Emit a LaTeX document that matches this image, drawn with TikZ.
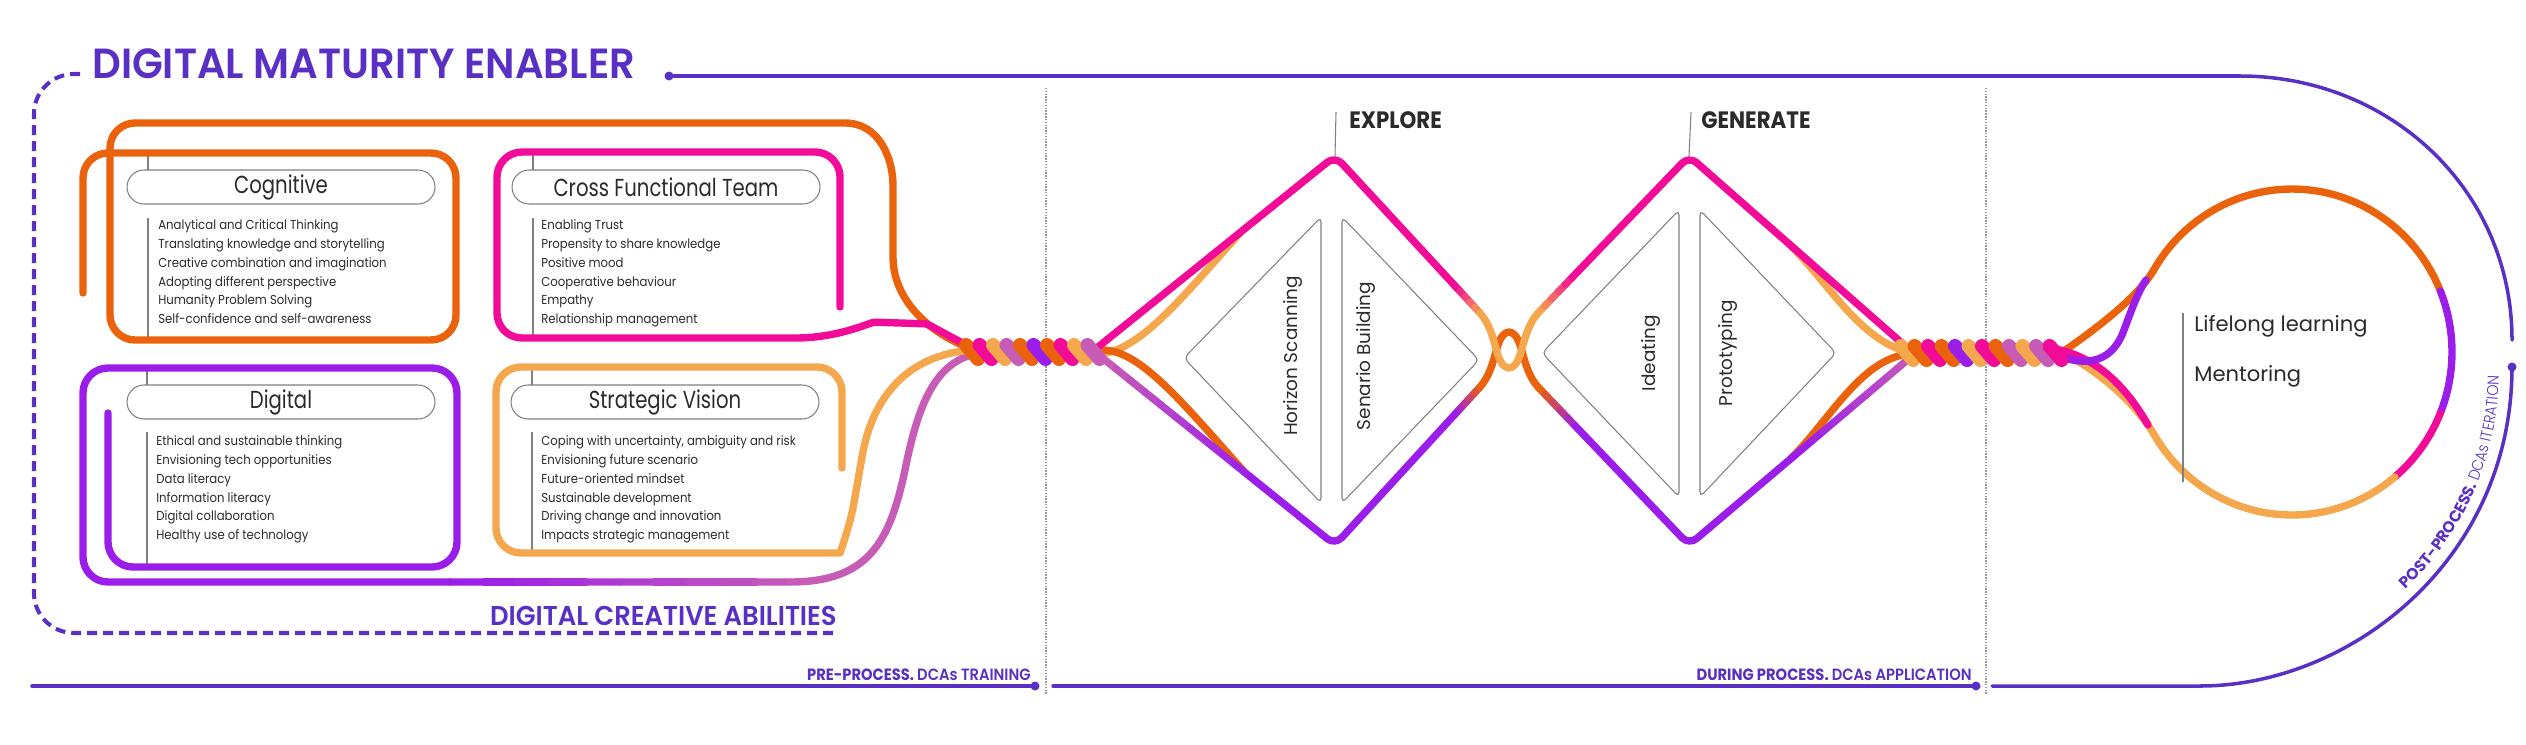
\documentclass[tikz,border=0pt]{standalone}
\usepackage{fontspec}
\setmainfont{Poppins}
\newfontfamily\dmnarrow{Poppins}[FakeStretch=0.8]
\newfontfamily\dmmid{Poppins}[FakeStretch=0.9]
\newfontfamily\dmhead{Poppins}[FakeStretch=0.95, BoldFont={Poppins SemiBold}]
\newfontfamily\dmlight{Poppins Light}[FakeStretch=0.9]
\usetikzlibrary{calc, decorations.text}

\definecolor{dmorange}{HTML}{EB620C}
\definecolor{dmpink}{HTML}{F20A98}
\definecolor{dmviolet}{HTML}{9B1DEA}
\definecolor{dmamber}{HTML}{F4A74C}
\definecolor{dmmauve}{HTML}{C65CB6}
\definecolor{dmtitle}{HTML}{5A30C4}
\definecolor{dmgray}{HTML}{808080}
\definecolor{dmink}{HTML}{2B2B2B}

\tikzset{
	strand/.style={line width=4.2pt, line cap=round, line join=round},
	twist/.style={line width=8pt, line cap=round},
	hair/.style={draw=dmgray, line width=0.6pt},
	pill/.style={draw=dmgray, line width=0.6pt, rounded corners=0.34cm, minimum width=6.16cm, minimum height=0.68cm, inner sep=0pt, text=dmink, font=\dmnarrow\fontsize{14pt}{16pt}\selectfont},
	items/.style={anchor=north west, inner sep=0pt, align=left, text=dmink, font=\dmmid\fontsize{7.4pt}{10.7pt}\selectfont},
	phase/.style={rotate=90, inner sep=0pt, text=dmink, font=\fontsize{10.5pt}{12pt}\selectfont},
	stage/.style={anchor=base west, inner sep=0pt, text=dmink, font=\dmmid\bfseries\fontsize{13.5pt}{15pt}\selectfont},
	looptext/.style={anchor=base west, inner sep=0pt, text=dmink, font=\fontsize{12pt}{14pt}\selectfont},
	heading/.style={inner sep=0pt, text=dmtitle, font=\dmhead\bfseries\fontsize{24pt}{27pt}\selectfont},
	period/.style={anchor=base east, inner sep=0pt, text=dmtitle, font=\dmmid\fontsize{9.3pt}{11pt}\selectfont},
	timeline/.style={draw=dmtitle, line width=2pt, line cap=round},
	frame/.style={draw=dmtitle, line width=2.3pt, dash pattern=on 0.2cm off 0.12cm, rounded corners=0.8cm},
	sep/.style={draw=gray!80, line width=0.6pt, dash pattern=on 0.8pt off 0.8pt}
}

\begin{document}
\begin{tikzpicture}[x=0.02cm, y=-0.02cm]
	\useasboundingbox (0,0) rectangle (2526,744);

	\coordinate (EA) at (1335,156);
	\coordinate (EB) at (1335,545);
	\coordinate (GA) at (1689,156);
	\coordinate (GB) at (1689,545);
	\coordinate (T0) at (669,76);
	\coordinate (R0) at (2512,367);

	% frame, process lines
	\draw[frame] (80,74) -- (34,74) -- (34,633) -- (837,633);
	\draw[timeline] (T0) -- (2240,76) .. controls (2390,76) and (2512,190) .. (2512,340);
	\fill[dmtitle] (T0) circle[radius=0.09cm];
	\draw[timeline] (32,686) -- (1035,686);
	\fill[dmtitle] (1035,686) circle[radius=0.09cm];
	\draw[timeline] (1053,686) -- (1976,686);
	\fill[dmtitle] (1976,686) circle[radius=0.09cm];
	\draw[timeline] (1992,686) -- (2200,686) .. controls (2350,686) and (2512,560) .. (R0);
	\fill[dmtitle] (R0) circle[radius=0.09cm];
	\draw[sep] (1046,88) -- (1046,695);
	\draw[sep] (1986,88) -- (1986,695);

	\node[heading, anchor=base west] (dme) at (92,78) {DIGITAL MATURITY ENABLER};
	\node[heading, anchor=base east, font=\dmhead\bfseries\fontsize{15.5pt}{17pt}\selectfont] (dca) at (837,625) {DIGITAL CREATIVE ABILITIES};
	\node[period] (pre) at (1031,680) {\bfseries PRE-PROCESS. \dmlight DCAs TRAINING};
	\node[period] (during) at (1972,680) {\bfseries DURING PROCESS. \dmlight DCAs APPLICATION};
	\path[decorate, decoration={text along path, text align={right, right indent=0.12cm},
		text={|\fontsize{9pt}{10pt}\selectfont\bfseries\color{dmtitle}|POST-PROCESS. |\dmlight\fontsize{9pt}{10pt}\selectfont\color{dmtitle}|DCAs ITERATION}}]
		(2200,673) .. controls (2345,673) and (2499,555) .. (2499,370);

	% ability boxes
	\node[pill] (cog) at (281,187) {Cognitive};
	\node[pill] (cft) at (666,187) {Cross Functional Team};
	\node[pill] (dig) at (281,402) {Digital};
	\node[pill] (sv) at (665,402) {Strategic Vision};

	\draw[hair] (148,153) -- (148,170);
	\draw[hair] (148,218) -- (148,340);
	\draw[hair] (533,152) -- (533,170);
	\draw[hair] (533,218) -- (533,338);
	\draw[hair] (147,368) -- (147,385);
	\draw[hair] (147,432) -- (147,567);
	\draw[hair] (532,367) -- (532,385);
	\draw[hair] (532,432) -- (532,553);

	\node[items] (cogitems) at (158,219.5) {Analytical and Critical Thinking\\Translating knowledge and storytelling\\Creative combination and imagination\\Adopting different perspective\\Humanity Problem Solving\\Self-confidence and self-awareness};
	\node[items] (cftitems) at (541,219.5) {Enabling Trust\\Propensity to share knowledge\\Positive mood\\Cooperative behaviour\\Empathy\\Relationship management};
	\node[items] (digitems) at (156,435.5) {Ethical and sustainable thinking\\Envisioning tech opportunities\\Data literacy\\Information literacy\\Digital collaboration\\Healthy use of technology};
	\node[items] (svitems) at (541,435.5) {Coping with uncertainty, ambiguity and risk\\Envisioning future scenario\\Future-oriented mindset\\Sustainable development\\Driving change and innovation\\Impacts strategic management};

	\draw[strand, dmorange, rounded corners=0.5cm] (83,293) -- (83,153) -- (456,153) -- (456,340) -- (110,340) -- (110,123) -- (820,123) .. controls (880,123) and (893,160) .. (893,210) -- (893,232) .. controls (893,300) and (930,335) .. (975,350);
	\draw[strand, dmpink, rounded corners=0.5cm] (840,307) -- (840,152) -- (497,152) -- (497,338) -- (770,338) .. controls (840,338) and (870,322) .. (900,323) .. controls (930,324) and (950,338) .. (978,350);
	\draw[strand, dmviolet, rounded corners=0.5cm] (108,413) -- (108,567) -- (457,567) -- (457,368) -- (83,368) -- (83,582) -- (450,582);
	\foreach \i [evaluate=\i as \p using int(100-10*\i)] in {0,...,9}
		\draw[strand, color=dmviolet!\p!dmmauve] ($(450,582)!\i/10!(790,582)$) -- ($(450,582)!\i/10+0.1!(790,582)$);
	\draw[strand, dmmauve] (790,582) .. controls (870,582) and (890,540) .. (905,470) .. controls (918,405) and (935,360) .. (980,353);
	\draw[strand, dmamber, rounded corners=0.5cm] (842,468) -- (842,367) -- (496,367) -- (496,553) -- (815,553) .. controls (840,553) and (850,525) .. (858,480) .. controls (872,400) and (905,355) .. (972,350);

	% explore / generate
	\draw[hair, rounded corners=0.1cm] (1321,217) -- (1184,358) -- (1321,503) -- cycle;
	\draw[hair, rounded corners=0.1cm] (1342,217) -- (1479,360) -- (1342,503) -- cycle;
	\draw[hair, rounded corners=0.1cm] (1679,210) -- (1542,353) -- (1679,497) -- cycle;
	\draw[hair, rounded corners=0.1cm] (1700,210) -- (1836,353) -- (1700,497) -- cycle;
	\node[phase] (hscan) at (1293,356) {Horizon Scanning};
	\node[phase] (sbuild) at (1366,356) {Senario Building};
	\node[phase] (ideate) at (1651,353) {Ideating};
	\node[phase] (proto) at (1728,353) {Prototyping};

	\draw[hair] (1336,112) -- (EA);
	\draw[hair] (1691,112) -- (GA);
	\node[stage] (explore) at (1349,128) {EXPLORE};
	\node[stage] (generate) at (1701,128) {GENERATE};

	\draw[strand, dmamber] (1100,354) .. controls (1140,350) and (1180,300) .. (1240,233);
	\draw[strand, dmorange] (1102,350) .. controls (1140,350) and (1180,400) .. (1245,472.6);
	\draw[strand, dmamber] (1790,244.8) .. controls (1830,285) and (1860,340) .. (1908,352);
	\draw[strand, dmorange] (1790,459.4) .. controls (1830,420) and (1860,360) .. (1908,354);

	% lower strand
	\coordinate (B1) at (1100,356);
	\coordinate (B2) at (1250,476.6);
	\coordinate (B3) at (1455,414.2);
	\coordinate (B4) at (1480,387);
	\coordinate (B5) at (1538,387);
	\coordinate (B6) at (1575,425.7);
	\coordinate (B7) at (1800.5,450.5);
	\coordinate (B8) at (1912,356);
	\foreach \i [evaluate=\i as \p using int(100-10*\i)] in {0,...,9}
		\draw[strand, color=dmmauve!\p!dmviolet] ($(B1)!\i/10!(B2)$) -- ($(B1)!\i/10+0.1!(B2)$);
	\draw[strand, dmviolet, rounded corners=0.2cm] (B2) -- (EB) -- (B3);
	\foreach \i [evaluate=\i as \p using int(100-20*\i)] in {0,...,4}
		\draw[strand, color=dmviolet!\p!dmorange] ($(B3)!\i/5!(B4)$) -- ($(B3)!\i/5+0.2!(B4)$);
	\draw[strand, dmorange] (B4) .. controls (1498,367) and (1494,334) .. (1509,332) .. controls (1524,334) and (1520,367) .. (B5);
	\foreach \i [evaluate=\i as \p using int(100-20*\i)] in {0,...,4}
		\draw[strand, color=dmorange!\p!dmviolet] ($(B5)!\i/5!(B6)$) -- ($(B5)!\i/5+0.2!(B6)$);
	\draw[strand, dmviolet, rounded corners=0.2cm] (B6) -- (GB) -- (B7);
	\foreach \i [evaluate=\i as \p using int(100-10*\i)] in {0,...,9}
		\draw[strand, color=dmviolet!\p!dmmauve] ($(B7)!\i/10!(B8)$) -- ($(B7)!\i/10+0.1!(B8)$);

	% upper strand
	\coordinate (A1) at (1455,285.9);
	\coordinate (A2) at (1480,313);
	\coordinate (A3) at (1538,313);
	\coordinate (A4) at (1572,277.6);
	\draw[strand, dmpink, rounded corners=0.2cm] (1098,347) -- (EA) -- (A1);
	\foreach \i [evaluate=\i as \p using int(100-20*\i)] in {0,...,4}
		\draw[strand, color=dmpink!\p!dmamber] ($(A1)!\i/5!(A2)$) -- ($(A1)!\i/5+0.2!(A2)$);
	\draw[strand, dmamber] (A2) .. controls (1498,333) and (1494,366) .. (1509,368) .. controls (1524,366) and (1520,333) .. (A3);
	\foreach \i [evaluate=\i as \p using int(100-20*\i)] in {0,...,4}
		\draw[strand, color=dmamber!\p!dmpink] ($(A3)!\i/5!(A4)$) -- ($(A3)!\i/5+0.2!(A4)$);
	\draw[strand, dmpink, rounded corners=0.2cm] (A4) -- (GA) -- (1912,352);

	% lifelong loop
	\draw[strand, dmorange] (2058,355) .. controls (2095,330) and (2138,297) .. (2153.4,270.5);
	\draw[strand, dmamber] (2060,352) .. controls (2100,370) and (2138,407) .. (2153.4,433.5);
	\draw[strand, dmpink] (2050,348) .. controls (2095,355) and (2125,385) .. (2148,425);
	\draw[strand, dmviolet] (2045,350) .. controls (2085,370) and (2110,362) .. (2122,335) .. controls (2130,315) and (2136,295) .. (2146,280);
	\draw[strand, dmorange] plot[domain=150:22, samples=50] ({2292+160*cos(\x)}, {352-163*sin(\x)});
	\draw[strand, dmviolet] plot[domain=22:-22, samples=20] ({2292+160*cos(\x)}, {352-163*sin(\x)});
	\draw[strand, dmpink] plot[domain=-22:-50, samples=15] ({2292+160*cos(\x)}, {352-163*sin(\x)});
	\draw[strand, dmamber] plot[domain=-50:-150, samples=40] ({2292+160*cos(\x)}, {352-163*sin(\x)});

	\draw[hair] (2183,313) -- (2183,482);
	\node[looptext] (lifelong) at (2194,331) {Lifelong learning};
	\node[looptext] (mentor) at (2194,381) {Mentoring};

	% braids
	\foreach \c [count=\k from 0] in {dmorange,dmpink,dmamber,dmmauve,dmorange,dmviolet,dmorange,dmpink,dmamber,dmmauve}
		\draw[twist, color=\c] ({966+13.5*\k},345) -- ++(12,14);
	\foreach \c [count=\k from 0] in {dmamber,dmorange,dmpink,dmorange,dmviolet,dmamber,dmpink,dmorange,dmmauve,dmamber,dmmauve,dmpink}
		\draw[twist, color=\c] ({1901+13.5*\k},346) -- ++(12,14);
\end{tikzpicture}
\end{document}
